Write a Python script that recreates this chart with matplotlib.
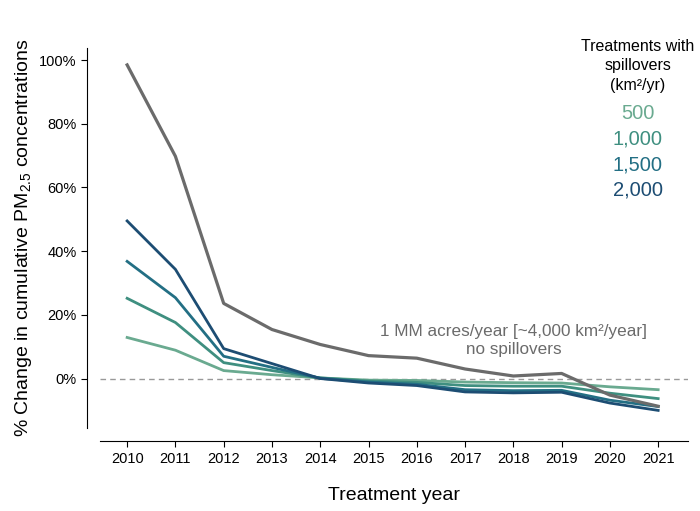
import numpy as np
import matplotlib.pyplot as plt

plt.rcParams['font.family'] = ['Liberation Sans', 'DejaVu Sans']
plt.rcParams['mathtext.fontset'] = 'custom'
plt.rcParams['mathtext.rm'] = 'Liberation Sans'
plt.rcParams['mathtext.it'] = 'Liberation Sans:italic'

# Datos
years = np.arange(2010, 2022)
no_spill = [98.5, 69.8, 23.6, 15.4, 10.7, 7.2, 6.4, 3.0, 0.8, 1.6, -5.2, -8.7]
s500 = [12.9, 8.9, 2.5, 1.2, 0.2, -0.5, -0.6, -1.1, -1.3, -1.4, -2.6, -3.5]
s1000 = [25.2, 17.6, 5.0, 2.5, 0.2, -0.8, -1.2, -2.2, -2.4, -2.4, -4.6, -6.3]
s1500 = [36.8, 25.4, 7.0, 3.5, 0.1, -1.1, -1.8, -3.5, -3.8, -3.7, -6.8, -8.8]
s2000 = [49.5, 34.3, 9.4, 4.7, 0.0, -1.4, -2.2, -4.2, -4.5, -4.3, -7.7, -10.0]
spill_labels = ['500', '1,000', '1,500', '2,000']
spill_colors = ['#6aaa90', '#3f8f80', '#236f84', '#1d4d73']

fig = plt.figure(figsize=(7, 5.11), dpi=100)
ax = fig.add_axes([0.143, 0.162, 0.84, 0.744])

ax.axhline(0, color='#999999', lw=1, ls='--', dashes=(4, 3), zorder=1)
ax.plot(years, no_spill, color='#6b6b6b', lw=2.3, zorder=3)
for serie, c in zip([s500, s1000, s1500, s2000], spill_colors):
    ax.plot(years, serie, color=c, lw=2, zorder=2)

ax.set_xlim(2009.44, 2021.62)
ax.set_ylim(-15.6, 103.8)
ax.set_xticks(years)
ax.set_yticks([0, 20, 40, 60, 80, 100])
ax.set_yticklabels(['0%', '20%', '40%', '60%', '80%', '100%'])
ax.tick_params(labelsize=10.5, length=4, color='black')

for s in ['top', 'right']:
    ax.spines[s].set_visible(False)
ax.spines['left'].set_position(('outward', 9.4))
ax.spines['bottom'].set_position(('outward', 9.4))

ax.set_xlabel('Treatment year', fontsize=14, labelpad=15)
ax.set_ylabel('% Change in cumulative PM$_{2.5}$ concentrations', fontsize=14, labelpad=4)

ax.text(2018.0, 12.0, '1 MM acres/year [~4,000 km²/year]\nno spillovers',
        ha='center', va='center', fontsize=12.3, color='#6b6b6b', linespacing=1.3)

# leyenda manual
fig.text(0.911, 0.871, 'Treatments with\nspillovers\n(km²/yr)', ha='center', va='center',
         fontsize=11.5, linespacing=1.4)
for i, (lab, c) in enumerate(zip(spill_labels, spill_colors)):
    fig.text(0.911, 0.778 - i * 0.05, lab, ha='center', va='center', fontsize=14.5, color=c)

plt.savefig('out.png', dpi=100)
